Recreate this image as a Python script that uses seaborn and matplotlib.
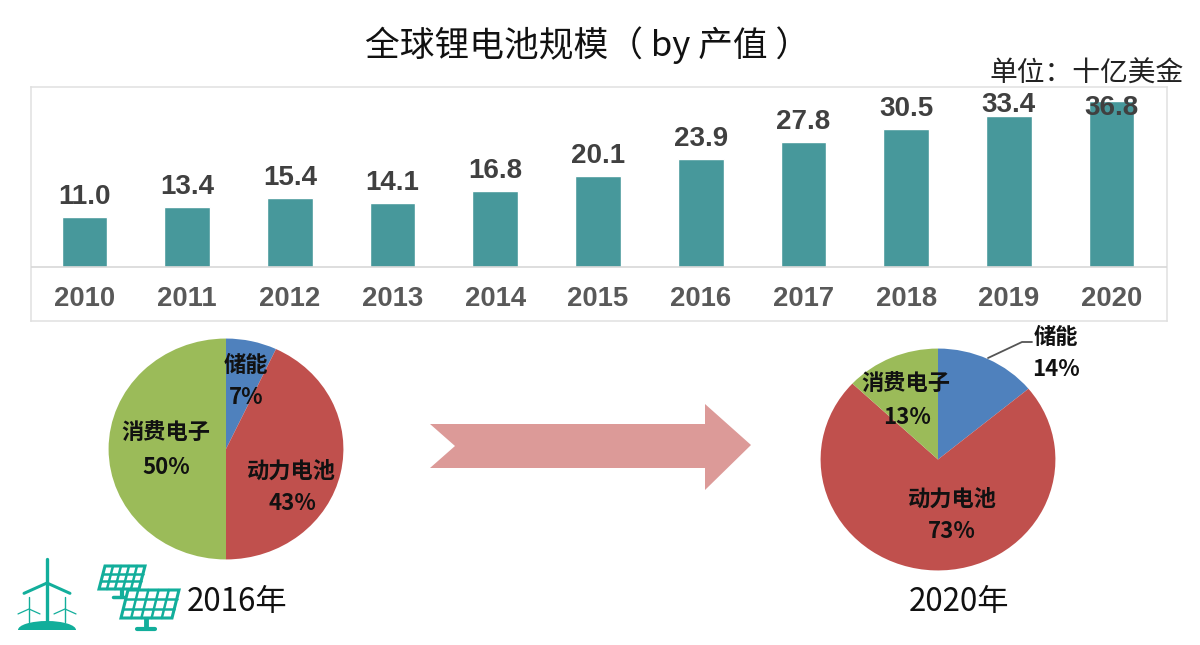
import matplotlib
matplotlib.use("Agg")
import matplotlib.pyplot as plt
from matplotlib.patches import Polygon, Ellipse
import numpy as np
import seaborn as sns

years = ["2010","2011","2012","2013","2014","2015","2016","2017","2018","2019","2020"]
market = [11.0,13.4,15.4,14.1,16.8,20.1,23.9,27.8,30.5,33.4,36.8]
share_labels = ["储能","动力电池","消费电子"]
share_2016 = [7,43,50]
share_2020 = [14,73,13]
pie_colors = ["#4F81BD","#C0504D","#9BBB59"]
bar_color = "#47989B"

sns.set_theme(style="white")
plt.rcParams['font.family'] = ['Noto Sans CJK SC','DejaVu Sans']
W, H = 1200, 645
fig = plt.figure(figsize=(12,6.45), dpi=100, facecolor="white")

def axpx(x0,y0,x1,y1,**kw):
    return fig.add_axes([x0/W,1-y1/H,(x1-x0)/W,(y1-y0)/H],**kw)

# bars
ax = axpx(31,87,1167,321)
sns.barplot(x=years,y=market,color=bar_color,saturation=1,width=0.445,ax=ax)
ax.set_xlim(-0.521,10.54)
ax.set_ylim(-11.97,39.9)
ax.axhline(0,color="#D8D8D8",lw=1.2,zorder=5)
ax.set_yticks([])
ax.set_xlabel(""); ax.set_ylabel("")
ax.tick_params(axis="x",length=0,pad=-25)
for t in ax.get_xticklabels():
    t.set_family(["Liberation Sans"]); t.set_fontweight("bold"); t.set_fontsize(19.8); t.set_color("#595959")
for s in ax.spines.values():
    s.set_color("#E0E0E0"); s.set_linewidth(1.1)
label_offsets = [5]*9 + [-1.5,-14.5]
for i,v in enumerate(market):
    ax.annotate(f"{v:.1f}",(i,v),xytext=(0,label_offsets[i]),textcoords="offset points",ha="center",va="bottom",
                family=["Liberation Sans"],fontweight="bold",fontsize=20,color="#404040",zorder=6)

# pies
def pie(box,vals):
    a = axpx(*box)
    a.pie(vals,colors=pie_colors,startangle=90,counterclock=False,radius=1,wedgeprops=dict(linewidth=0))
    a.set_aspect("auto"); a.set_xlim(-1.005,1.005); a.set_ylim(-1.005,1.005)
    a.axis("off")
pie((108,338,344,560),share_2016)
pie((820,348,1056,571),share_2020)

# overlay
ov = fig.add_axes([0,0,1,1],zorder=10)
ov.set_xlim(0,W); ov.set_ylim(H,0); ov.axis("off"); ov.patch.set_alpha(0)

ov.text(588,45,"全球锂电池规模（ by 产值 ）",ha="center",va="center",fontsize=25,color="#111111")
ov.text(1087,74,"单位：十亿美金",ha="center",va="center",fontsize=20,color="#222222")

def lab(x,y,s,fs=16):
    ov.text(x,y,s,ha="center",va="center",fontsize=fs,fontweight="bold",color="#111111")
lab(246,365,share_labels[0]); lab(246,398,f"{share_2016[0]}%")
lab(291,471,share_labels[1]); lab(292,504,f"{share_2016[1]}%")
lab(166,433,share_labels[2]); lab(166,467,f"{share_2016[2]}%")
lab(1056,337,share_labels[0]); lab(1056,370,f"{share_2020[0]}%")
lab(952,499,share_labels[1]); lab(952,532,f"{share_2020[1]}%")
lab(906,384,share_labels[2]); lab(907,418,f"{share_2020[2]}%")
ov.plot([988,1022,1032],[358,342,342],color="#555555",lw=1.3)

ov.text(237,602,"2016年",ha="center",va="center",fontsize=22.5,color="#111111")
ov.text(959,602,"2020年",ha="center",va="center",fontsize=22.5,color="#111111")

# arrow
ov.add_patch(Polygon([(430,424),(705,424),(705,404),(751,445),(705,490),(705,468),(430,468),(455,446)],
                     closed=True,fc="#DC9A98",ec="none"))

# icons
teal = "#12AE9B"
def turbine(x,top,hub,bottom,blade,lw):
    ov.plot([x,x],[top,bottom],color=teal,lw=lw,solid_capstyle="round")
    ov.plot([x-blade,x,x+blade],[hub+blade*0.45,hub,hub+blade*0.45],color=teal,lw=lw*0.9)
turbine(47,559,583,622,23,2.4)
turbine(29,597,609,622,11,1.0)
turbine(65,597,609,622,11,1.0)
ov.add_patch(Ellipse((47,630),58,18,fc=teal,ec="none"))
ov.add_patch(Polygon([(0,630),(100,630),(100,645),(0,645)],fc="white",ec="none",zorder=3))

def panel(tl,tr,br,bl,nx,ny):
    tl,tr,br,bl = map(np.array,(tl,tr,br,bl))
    ov.add_patch(Polygon([tl,tr,br,bl],fc="white",ec=teal,lw=2.2,zorder=4))
    for i in range(1,nx):
        f=i/nx
        p,q=tl+(tr-tl)*f,bl+(br-bl)*f
        ov.plot([p[0],q[0]],[p[1],q[1]],color=teal,lw=1.8,zorder=5)
    for j in range(1,ny):
        f=j/ny
        p,q=tl+(bl-tl)*f,tr+(br-tr)*f
        ov.plot([p[0],q[0]],[p[1],q[1]],color=teal,lw=1.8,zorder=5)
panel((105,566),(145,566),(139,589),(99,589),5,3)
ov.plot([122,122],[589,596],color=teal,lw=3,zorder=3)
ov.plot([113,130],[597,597],color=teal,lw=2.5,zorder=3)
panel((128,590),(179,590),(172,618),(121,618),5,3)
ov.plot([146,146],[618,628],color=teal,lw=3.5,zorder=3)
ov.plot([137,155],[629,629],color=teal,lw=3,zorder=3)

fig.savefig("out.png",dpi=100,facecolor="white")
